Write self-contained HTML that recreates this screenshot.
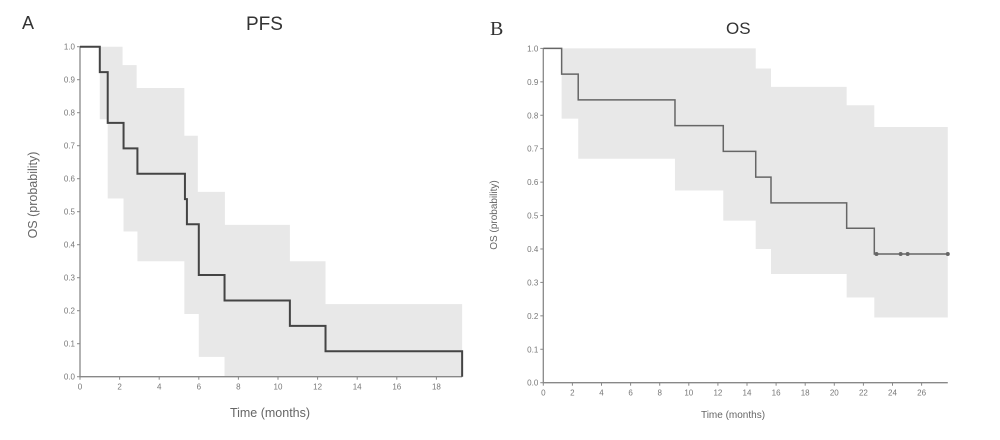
<!DOCTYPE html>
<html><head><meta charset="utf-8"><style>
body{margin:0;background:#fff;width:1000px;height:435px;overflow:hidden}
svg{font-family:"Liberation Sans",sans-serif}
</style></head><body>
<svg id="c" width="1000" height="435"></svg>
<script>
// Panel A (PFS) data
const pfsTimes=[0,1.0,1.4,2.2,2.9,5.3,5.4,6.0,7.3,10.6,12.4,19.3];
const pfsSurv=[1,0.923,0.769,0.692,0.615,0.538,0.462,0.308,0.231,0.154,0.077,0];
const pfsUpT=[1.0,2.15,2.86,5.27,5.95,7.32,10.6,12.4,19.3];
const pfsUpV=[1.0,0.944,0.875,0.73,0.56,0.46,0.35,0.22];
const pfsLoT=[1.0,1.4,2.2,2.9,5.27,6.0,7.3,19.3];
const pfsLoV=[0.78,0.54,0.44,0.35,0.19,0.06,0];
const pfsXTicks=[0,2,4,6,8,10,12,14,16,18];
// Panel B (OS) data
const osTimes=[0,1.26,2.4,9.05,12.37,14.6,15.65,20.85,22.75,27.8];
const osSurv=[1,0.923,0.846,0.769,0.692,0.615,0.538,0.462,0.385];
const osUpT=[1.26,14.6,15.65,20.85,22.75,27.8];
const osUpV=[1.0,0.94,0.885,0.83,0.765];
const osLoT=[1.26,2.4,9.05,12.37,14.6,15.65,20.85,22.75,27.8];
const osLoV=[0.79,0.67,0.575,0.485,0.40,0.325,0.255,0.195];
const osCensor=[22.9,24.56,25.04,27.8];
const osXTicks=[0,2,4,6,8,10,12,14,16,18,20,22,24,26];
const yTicks=[0,0.1,0.2,0.3,0.4,0.5,0.6,0.7,0.8,0.9,1.0];

const NS='http://www.w3.org/2000/svg';
const svg=document.getElementById('c');
function mk(t,a,p){const e=document.createElementNS(NS,t);for(const k in a)e.setAttribute(k,a[k]);(p||svg).appendChild(e);return e;}

function panel(o){
  const g=mk('g',{});
  
  
  const X=t=>o.x0+t*o.px, Y=v=>o.y0-v*o.py;
  // band
  let d='M'+X(o.upT[0])+','+Y(o.upV[0]);
  for(let i=0;i<o.upV.length;i++){d+=' L'+X(o.upT[i])+','+Y(o.upV[i])+' L'+X(o.upT[i+1])+','+Y(o.upV[i]);}
  for(let i=o.loV.length-1;i>=0;i--){d+=' L'+X(o.loT[i+1])+','+Y(o.loV[i])+' L'+X(o.loT[i])+','+Y(o.loV[i]);}
  d+='Z';
  const band=mk('path',{d:d,fill:'#e8e8e8'},g);
  
  
  // axes
  const ax=mk('path',{d:`M${X(0)},${Y(1)} V${Y(0)} H${X(o.xmax)}`,stroke:'#888',fill:'none','stroke-width':1.3},g);
  
  
  yTicks.forEach(v=>{
    mk('line',{x1:X(0)-3,x2:X(0),y1:Y(v),y2:Y(v),stroke:'#888'},g);
    const t=mk('text',{x:X(0)-5,y:Y(v)+3,'font-size':8,fill:'#777','text-anchor':'end'},g);
    t.textContent=v.toFixed(1);
    
    
  });
  o.xt.forEach(v=>{
    mk('line',{x1:X(v),x2:X(v),y1:Y(0),y2:Y(0)+3,stroke:'#888'},g);
    const t=mk('text',{x:X(v),y:Y(0)+13,'font-size':8,fill:'#777','text-anchor':'middle'},g);
    t.textContent=v;
    
    
  });
  // curve
  let c='M'+X(o.t[0])+','+Y(o.s[0]);
  for(let i=0;i<o.s.length;i++){c+=' H'+X(o.t[i+1]);if(i+1<o.s.length)c+=' V'+Y(o.s[i+1]);}
  if(o.dropEnd) c+=' V'+Y(0);
  const cu=mk('path',{d:c,stroke:o.lc,fill:'none','stroke-width':o.lw},g);
  
  
  (o.cens||[]).forEach(t=>{
    const m=mk('circle',{cx:X(t),cy:Y(o.s[o.s.length-1]),r:2,fill:'#666'},g);
    
    
  });
  const tx=mk('text',{x:o.xtX,y:o.xtY,'font-size':o.fs,fill:'#666','text-anchor':'middle'},g);
  tx.textContent='Time (months)';
  
  
  const ty=mk('text',{x:0,y:0,'font-size':o.fs,fill:'#666','text-anchor':'middle',transform:`translate(${o.ytX},${o.ytY}) rotate(-90)`},g);
  ty.textContent='OS (probability)';
  
  
}
panel({name:'panel-a-pfs',x0:80,px:19.8,y0:376.7,py:330,xmax:19.3,t:pfsTimes,s:pfsSurv,upT:pfsUpT,upV:pfsUpV,loT:pfsLoT,loV:pfsLoV,xt:pfsXTicks,lc:'#444',lw:2,dropEnd:false,xtX:270,xtY:417,ytX:37,ytY:195,fs:12.5});
panel({name:'panel-b-os',x0:543.3,px:14.55,y0:382.7,py:334.3,xmax:27.8,t:osTimes,s:osSurv,upT:osUpT,upV:osUpV,loT:osLoT,loV:osLoV,xt:osXTicks,cens:osCensor,lc:'#666',lw:1.5,xtX:733,xtY:418,ytX:497,ytY:215,fs:10});
function label(txt,x,y,fs,fam,name){const t=mk('text',{x:x,y:y,'font-size':fs,fill:'#333','font-family':fam});t.textContent=txt;
 
 }
label('A',22,29,18,'Liberation Sans','panel-a-label');
label('PFS',246,30,19,'Liberation Sans','panel-a-title');
label('B',490,35,20,'Liberation Serif','panel-b-label');
label('OS',726,34,17,'Liberation Sans','panel-b-title');
</script>
</body></html>
